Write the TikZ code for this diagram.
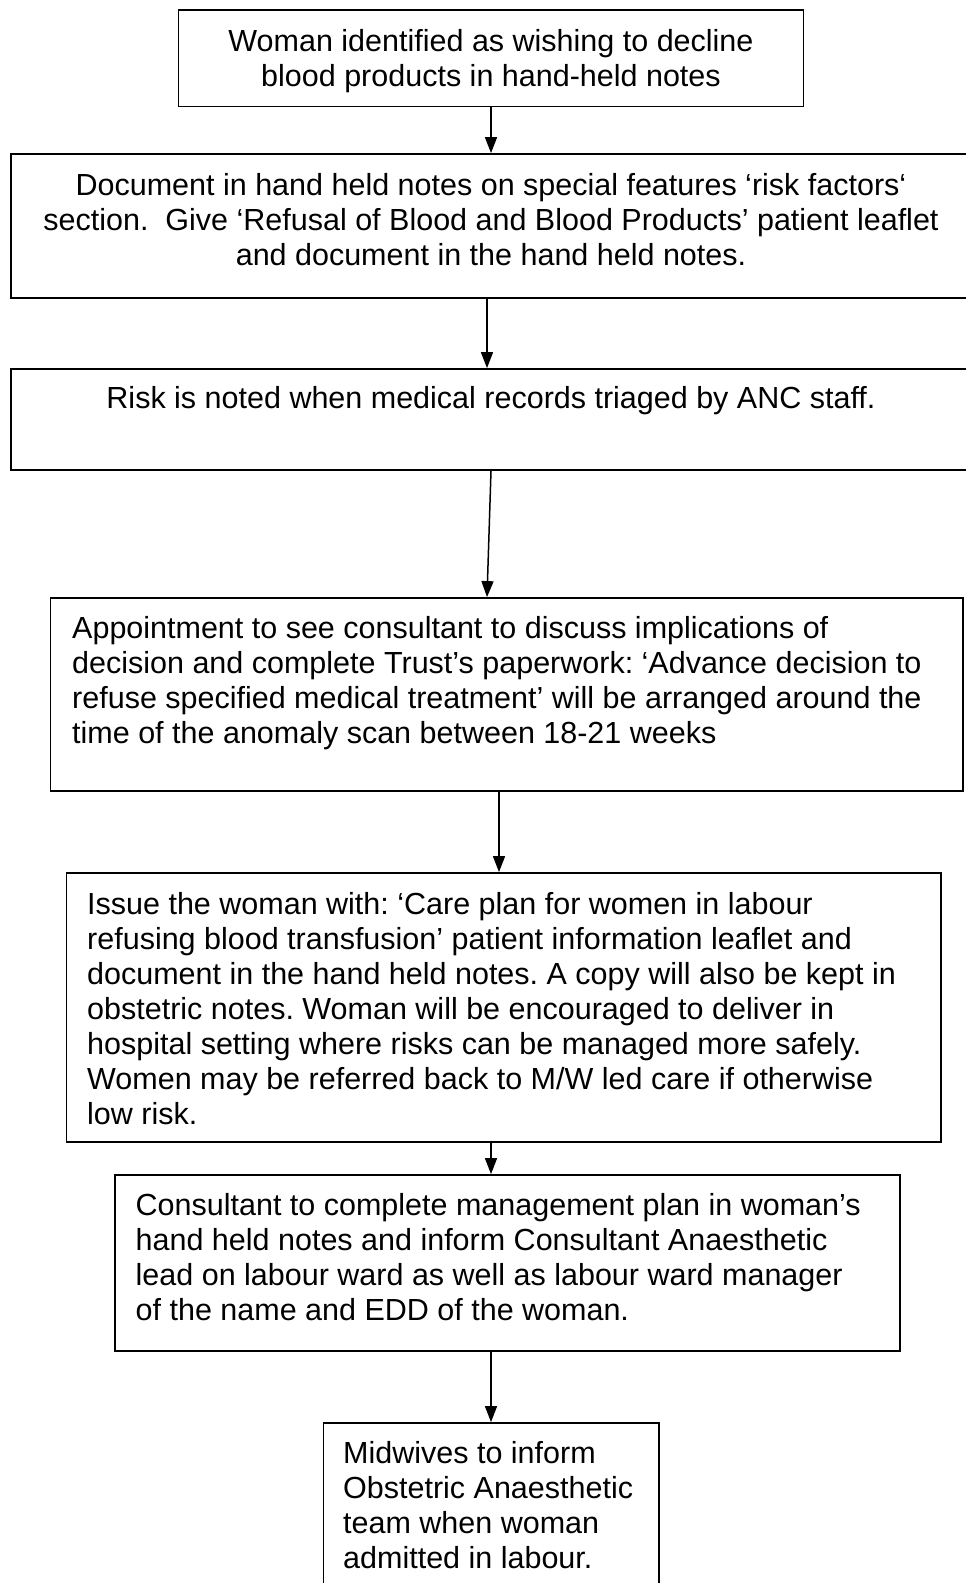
\documentclass[tikz,border=0pt]{standalone}
\usepackage{fontspec}
\setmainfont{Liberation Sans}
\usetikzlibrary{arrows.meta}
\frenchspacing
\begin{document}
\begin{tikzpicture}[x=1pt,y=-1pt,
  box/.style={draw=black, line width=1.8pt, rectangle, inner sep=0pt},
  txt/.style={inner sep=0pt, font=\fontsize{30.5}{35}\selectfont\frenchspacing},
  txtc/.style={txt, align=center},
  txtl/.style={txt, align=left},
  arr/.style={line width=1.5pt, -{Triangle[length=16pt,width=12pt]}}]
\useasboundingbox (0,0) rectangle (966,1583);
\clip (0,0) rectangle (966,1583);
\fill[white] (0,0) rectangle (966,1583);
% boxes
\node[box, minimum width=625pt, minimum height=96.5pt] (b1) at (491,58.25) {};
\node[box, minimum width=960pt, minimum height=144pt] (b2) at (491,226) {};
\node[box, minimum width=960pt, minimum height=101pt] (b3) at (491,419.5) {};
\node[box, minimum width=912.5pt, minimum height=193pt] (b4) at (506.75,694.5) {};
\node[box, minimum width=874.5pt, minimum height=269pt] (b5) at (503.75,1007.5) {};
\node[box, minimum width=785pt, minimum height=176pt] (b6) at (507.5,1263) {};
\node[box, minimum width=335.5pt, minimum height=190pt] (b7) at (491.25,1518) {};
% texts (anchor=base sits on the last line's baseline)
\node[txtc, anchor=base] (t1) at (491,86) {Woman identified as wishing to decline\\blood products in hand-held notes};
\node[txtc, anchor=base] (t2) at (491,265) {Document in hand held notes on special features ‘risk factors‘\\section.~\ Give ‘Refusal of Blood and Blood Products’ patient leaflet\\and document in the hand held notes.};
\node[txtc, anchor=base] (t3) at (491,408) {Risk is noted when medical records triaged by ANC staff.};
\node[txtl, anchor=base west] (t4) at (72,743) {Appointment to see consultant to discuss implications of\\decision and complete Trust’s paperwork: ‘Advance decision to\\refuse specified medical treatment’ will be arranged around the\\time of the anomaly scan between 18-21 weeks};
\node[txtl, anchor=base west] (t5) at (87,1124) {Issue the woman with: ‘Care plan for women in labour\\refusing blood transfusion’ patient information leaflet and\\document in the hand held notes. A copy will also be kept in\\obstetric notes. Woman will be encouraged to deliver in\\hospital setting where risks can be managed more safely.\\Women may be referred back to M/W led care if otherwise\\low risk.};
\node[txtl, anchor=base west] (t6) at (135.5,1320) {Consultant to complete management plan in woman’s\\hand held notes and inform Consultant Anaesthetic\\lead on labour ward as well as labour ward manager\\of the name and EDD of the woman.};
\node[txtl, anchor=base west] (t7) at (343,1568) {Midwives to inform\\Obstetric Anaesthetic\\team when woman\\admitted in labour.};
% connector positions
\coordinate (xa) at (491,0);
\coordinate (xb) at (487,0);
\coordinate (xc) at (499,0);
\draw[arr] (b1.south -| xa) -- (b2.north -| xa);
\draw[arr] (b2.south -| xb) -- (b3.north -| xb);
\draw[arr] (b3.south -| xa) -- (b4.north -| xb);
\draw[arr] (b4.south -| xc) -- (b5.north -| xc);
\draw[arr] (b5.south -| xa) -- (b6.north -| xa);
\draw[arr] (b6.south -| xa) -- (b7.north -| xa);
\end{tikzpicture}
\end{document}
